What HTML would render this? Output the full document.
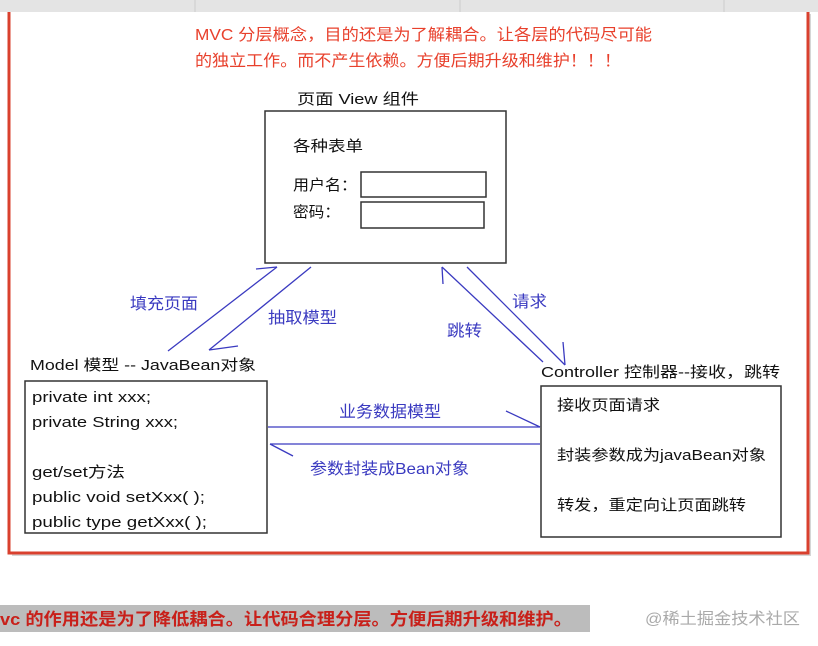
<!DOCTYPE html>
<html><head><meta charset="utf-8"><style>
html,body{margin:0;padding:0;background:#fff;}
svg{display:block;}
text{font-family:"Liberation Sans","Noto Sans CJK SC",sans-serif;}
</style></head><body>
<svg width="818" height="646" viewBox="0 0 818 646" xmlns="http://www.w3.org/2000/svg">
<rect x="12" y="14" width="799" height="542" fill="#bbb" opacity="0.6"/>
<rect x="9" y="10" width="799" height="543" fill="#fff" stroke="#d9402e" stroke-width="3"/>
<rect x="0" y="0" width="818" height="12" fill="#e4e4e4"/>
<line x1="195" y1="0" x2="195" y2="12" stroke="#ccc"/>
<line x1="460" y1="0" x2="460" y2="12" stroke="#ccc"/>
<line x1="724" y1="0" x2="724" y2="12" stroke="#ccc"/>
<g fill="#e8402c" font-size="16">
<text x="195" y="40" textLength="457" lengthAdjust="spacingAndGlyphs">MVC 分层概念，目的还是为了解耦合。让各层的代码尽可能</text>
<text x="195" y="66" textLength="426" lengthAdjust="spacingAndGlyphs">的独立工作。而不产生依赖。方便后期升级和维护！！！</text>
</g>
<g fill="#111" font-size="15">
<text x="297" y="104" textLength="122" lengthAdjust="spacingAndGlyphs">页面 View  组件</text>
<text x="293" y="151" textLength="70" lengthAdjust="spacingAndGlyphs">各种表单</text>
<text x="293" y="190" textLength="64" lengthAdjust="spacingAndGlyphs">用户名：</text>
<text x="293" y="217" textLength="47" lengthAdjust="spacingAndGlyphs">密码：</text>
<text x="30" y="370" textLength="226" lengthAdjust="spacingAndGlyphs">Model 模型 -- JavaBean对象</text>
<text x="541" y="377" textLength="239" lengthAdjust="spacingAndGlyphs">Controller 控制器--接收，跳转</text>
<text x="32" y="402" textLength="119" lengthAdjust="spacingAndGlyphs">private int xxx;</text>
<text x="32" y="427" textLength="146" lengthAdjust="spacingAndGlyphs">private String xxx;</text>
<text x="32" y="477" textLength="93" lengthAdjust="spacingAndGlyphs">get/set方法</text>
<text x="32" y="502" textLength="173" lengthAdjust="spacingAndGlyphs">public void setXxx(  );</text>
<text x="32" y="527" textLength="175" lengthAdjust="spacingAndGlyphs">public type getXxx(  );</text>
<text x="557" y="410" textLength="103" lengthAdjust="spacingAndGlyphs">接收页面请求</text>
<text x="557" y="460" textLength="209" lengthAdjust="spacingAndGlyphs">封装参数成为javaBean对象</text>
<text x="557" y="510" textLength="189" lengthAdjust="spacingAndGlyphs">转发，重定向让页面跳转</text>
</g>
<g fill="none" stroke="#333" stroke-width="1.5">
<rect x="265" y="111" width="241" height="152"/>
<rect x="361" y="172" width="125" height="25"/>
<rect x="361" y="202" width="123" height="26"/>
<rect x="25" y="381" width="242" height="152"/>
<rect x="541" y="386" width="240" height="151"/>
</g>
<g stroke="#3a3ac0" stroke-width="1.3" fill="none">
<line x1="168" y1="351" x2="277" y2="267"/><line x1="277" y1="267" x2="256" y2="269"/>
<line x1="311" y1="267" x2="209" y2="350"/><line x1="209" y1="350" x2="238" y2="346"/>
<line x1="543" y1="362" x2="442" y2="267"/><line x1="442" y1="267" x2="443" y2="284"/>
<line x1="467" y1="267" x2="565" y2="365"/><line x1="565" y1="365" x2="563" y2="342"/>
<line x1="268" y1="427" x2="540" y2="427"/><line x1="540" y1="427" x2="506" y2="411"/>
<line x1="540" y1="444" x2="270" y2="444"/><line x1="270" y1="444" x2="293" y2="456"/>
</g>
<g fill="#3a3ac0" font-size="16">
<text x="130" y="309" textLength="68" lengthAdjust="spacingAndGlyphs">填充页面</text>
<text x="268" y="323" textLength="69" lengthAdjust="spacingAndGlyphs">抽取模型</text>
<text x="447" y="336" textLength="35" lengthAdjust="spacingAndGlyphs">跳转</text>
<text x="512" y="307" textLength="35" lengthAdjust="spacingAndGlyphs">请求</text>
<text x="339" y="417" textLength="102" lengthAdjust="spacingAndGlyphs">业务数据模型</text>
<text x="310" y="474" textLength="159" lengthAdjust="spacingAndGlyphs">参数封装成Bean对象</text>
</g>
<rect x="0" y="605" width="590" height="27" fill="#bcbcbc"/>
<text x="0" y="625" fill="#c8201a" font-size="17" font-weight="bold" textLength="572" lengthAdjust="spacingAndGlyphs">vc 的作用还是为了降低耦合。让代码合理分层。方便后期升级和维护。</text>
<text x="645" y="624" fill="#aaa" font-size="16" textLength="155" lengthAdjust="spacingAndGlyphs">@稀土掘金技术社区</text>
</svg>
</body></html>
